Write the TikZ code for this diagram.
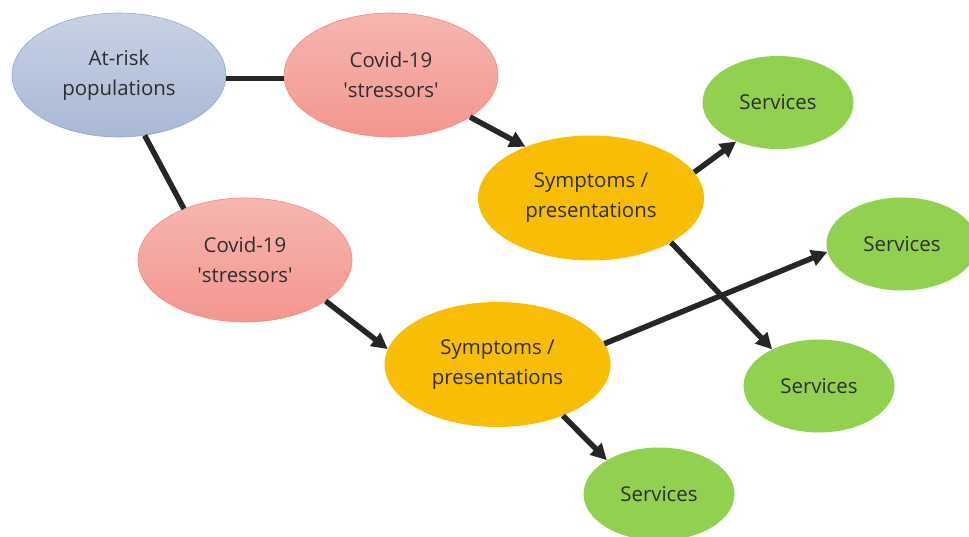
\documentclass[tikz,border=0pt]{standalone}
\usepackage{fontspec}
\setmainfont{Open Sans}
\usetikzlibrary{shapes.geometric,arrows.meta}
\definecolor{txt}{HTML}{2E2E2E}
\definecolor{blueT}{HTML}{C8D2E4}
\definecolor{blueB}{HTML}{A9B8D6}
\definecolor{blueE}{HTML}{93A8CE}
\definecolor{redT}{HTML}{F6B6B0}
\definecolor{redB}{HTML}{F3968F}
\definecolor{redE}{HTML}{EC8A84}
\definecolor{yel}{HTML}{F8BE06}
\definecolor{grn}{HTML}{92D050}
\definecolor{lk}{HTML}{262626}
\begin{document}
\begin{tikzpicture}[x=1bp,y=-1bp,
  blob/.style={ellipse, inner sep=0pt, align=center, text=txt,
    font=\fontsize{20.5}{30}\selectfont},
  riskbox/.style={blob, minimum width=214bp, minimum height=124bp,
    top color=blueT, bottom color=blueB, draw=blueE, line width=0.6bp},
  stressbox/.style={blob, minimum width=214bp, minimum height=124bp,
    top color=redT, bottom color=redB, draw=redE, line width=0.6bp},
  sympbox/.style={blob, minimum width=226bp, minimum height=125bp, fill=yel},
  servbox/.style={blob, minimum width=151bp, minimum height=93bp, fill=grn},
  link/.style={line width=5.5bp, draw=lk},
  arr/.style={link, -{Triangle[length=16bp,width=16bp]}},
]
\useasboundingbox (0,0) rectangle (969,537);
\clip (0,0) rectangle (969,537);
\fill[white] (0,0) rectangle (969,537);

\node[riskbox] (risk) at (119,75) {At-risk\\populations};
\node[stressbox] (cov1) at (391,75) {Covid-19\\\textquotesingle stressors\textquotesingle};
\node[stressbox] (cov2) at (245,260) {Covid-19\\\textquotesingle stressors\textquotesingle};
\node[sympbox] (sym1) at (591,198) {Symptoms /\\presentations};
\node[sympbox] (sym2) at (497.5,364.5) {Symptoms /\\presentations};
\node[servbox] (ser1) at (778,102.5) {Services};
\node[servbox] (ser2) at (902,244) {Services};
\node[servbox] (ser3) at (819,386) {Services};
\node[servbox] (ser4) at (659,494) {Services};

\draw[link] (risk.-2.7) -- (cov1.182.7);
\draw[link] (risk.-67.3) -- (cov2.140.4);
\draw[arr] (cov1.-28.9) -- (sym1.142.3);
\draw[arr] (cov2.-27.7) -- (sym2.172.5);
\draw[arr] (sym1.14.7) -- (ser1.223);
\draw[arr] (sym1.-29.7) -- (ser3.142);
\draw[arr] (sym2.11.5) -- (ser2.186.7);
\draw[arr] (sym2.-38.7) -- (ser4.147.7);
\end{tikzpicture}
\end{document}
